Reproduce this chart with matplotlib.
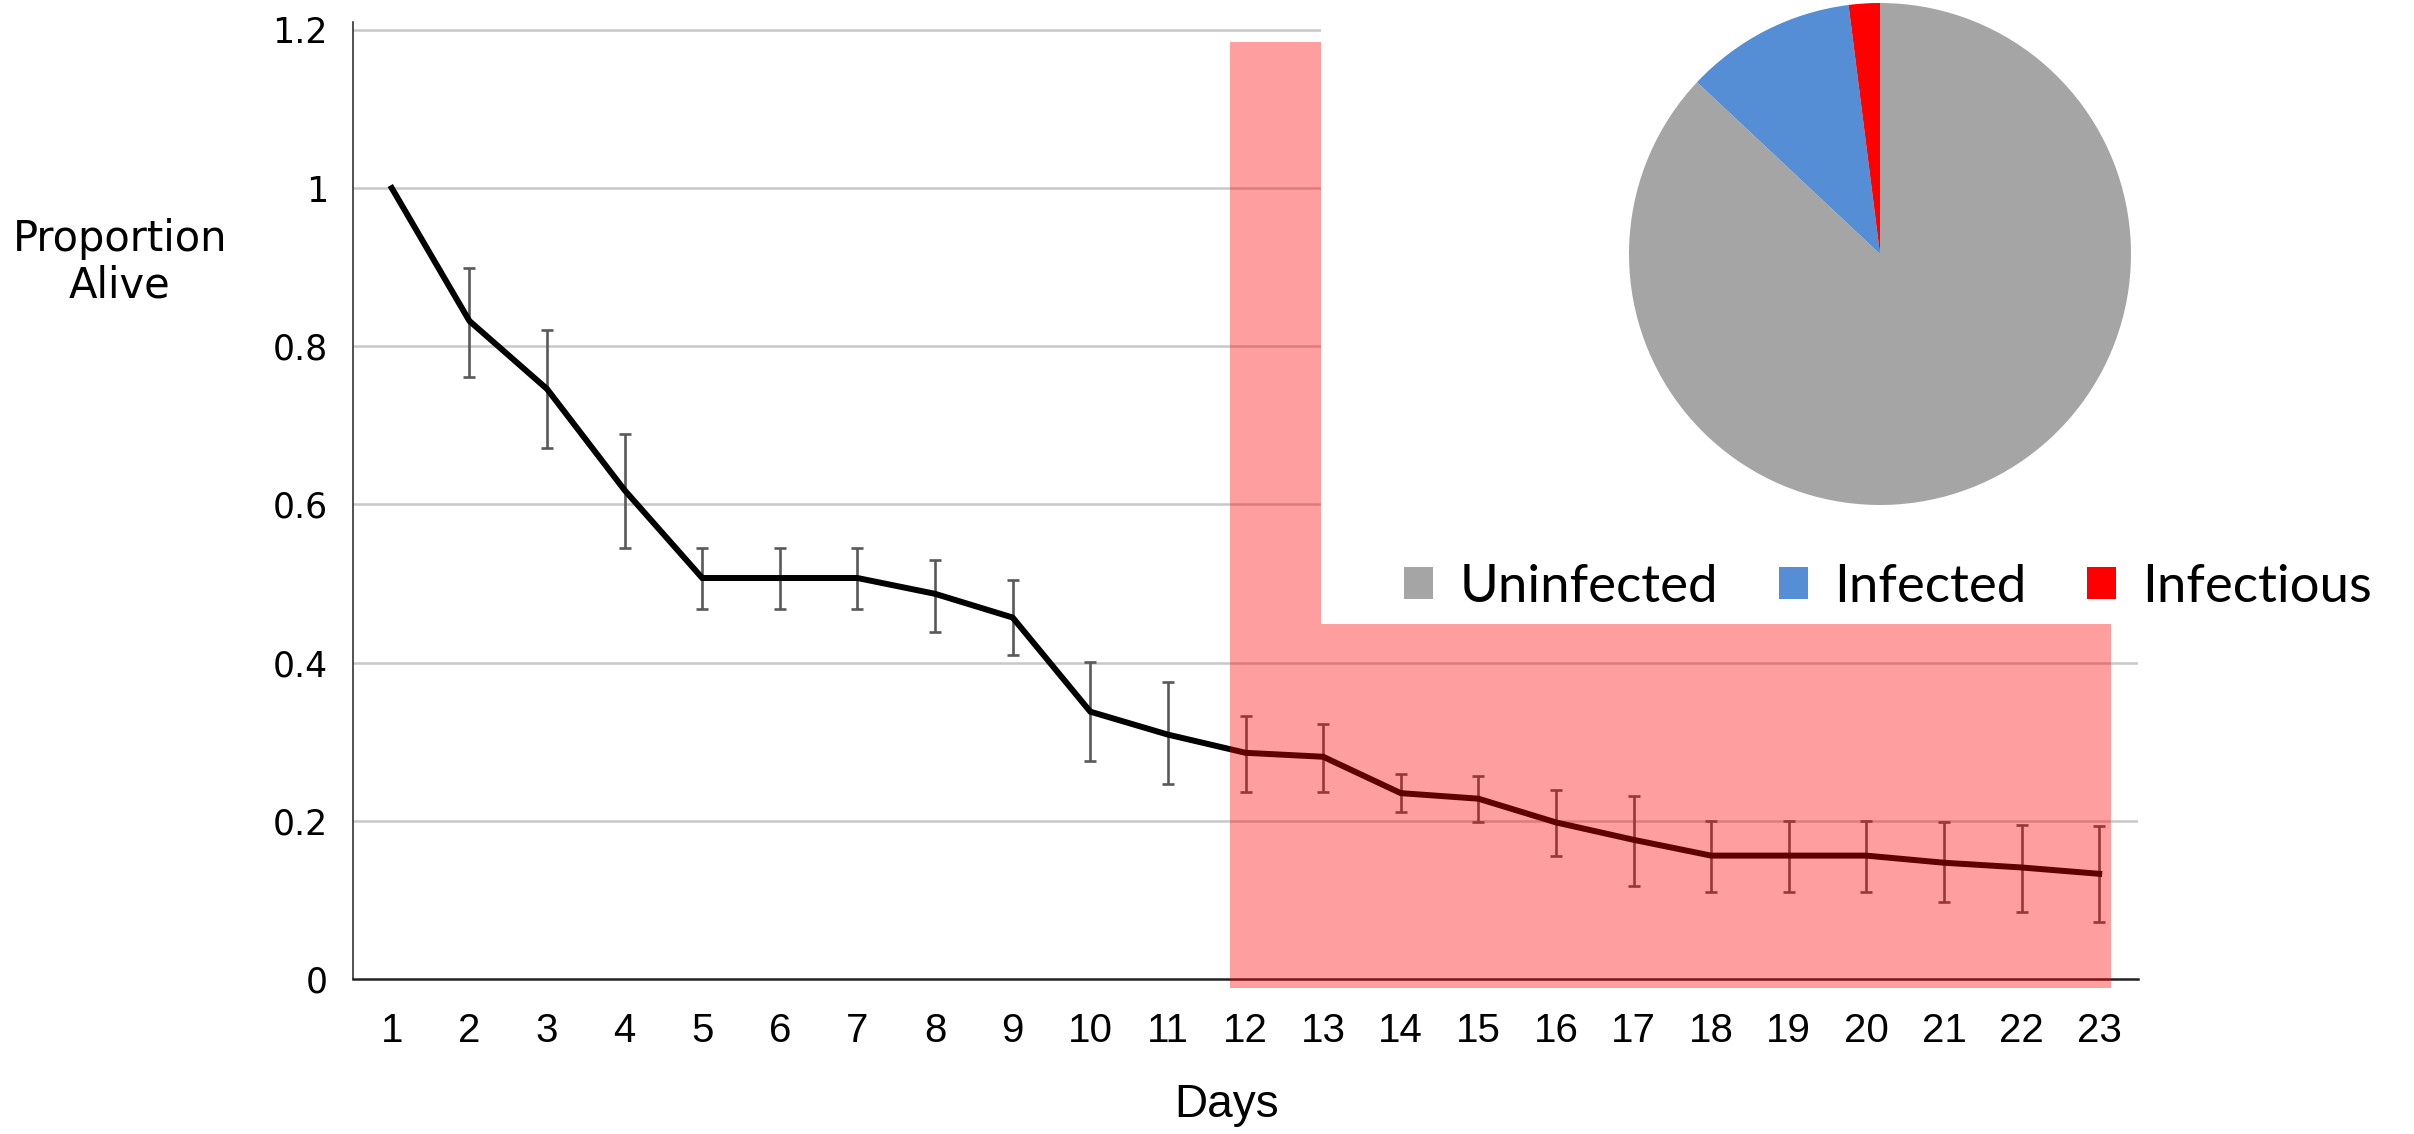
import matplotlib
matplotlib.use('Agg')
import matplotlib.pyplot as plt
from matplotlib.patches import Patch, Rectangle

# survival data
days = list(range(1, 24))
alive = [1.0, 0.832, 0.746, 0.618, 0.507, 0.507, 0.507, 0.487, 0.457, 0.338, 0.309,
         0.286, 0.281, 0.235, 0.228, 0.198, 0.176, 0.156, 0.156, 0.156, 0.147, 0.141, 0.133]
err_top = [1.0, 0.899, 0.821, 0.689, 0.545, 0.545, 0.545, 0.530, 0.504, 0.401, 0.375,
           0.333, 0.323, 0.259, 0.257, 0.239, 0.232, 0.200, 0.200, 0.200, 0.199, 0.195, 0.193]
err_bot = [1.0, 0.761, 0.671, 0.545, 0.468, 0.468, 0.468, 0.439, 0.410, 0.276, 0.246,
           0.237, 0.236, 0.211, 0.198, 0.156, 0.117, 0.110, 0.110, 0.110, 0.097, 0.085, 0.072]
has_err = [False] + [True] * 22

shade_start, shade_end, shade_top = 11.8, 23.15, 1.185

pie_labels = ['Uninfected', 'Infected', 'Infectious']
pie_values = [87, 11, 2]
pie_colors = ['#A5A5A5', '#558ED5', '#FF0000']

W, H = 2414, 1134
fig = plt.figure(figsize=(W / 100, H / 100), dpi=100)
ax = fig.add_axes([353 / W, 1 - 979 / H, 1785 / W, (979 - 22) / H])

ax.set_xlim(0.5, 23.5)
ax.set_ylim(0, 1.21)
ax.set_yticks([0, 0.2, 0.4, 0.6, 0.8, 1.0, 1.2])
ax.set_yticklabels(['0', '0.2', '0.4', '0.6', '0.8', '1', '1.2'])
ax.set_xticks(days)
ax.set_xticklabels([str(d) for d in days])
for y in [0.2, 0.4, 0.6, 0.8, 1.0, 1.2]:
    ax.axhline(y, color='#C8C8C8', lw=1.8, zorder=0)

for s in ['top', 'right']:
    ax.spines[s].set_visible(False)
ax.spines['left'].set_color('#333333')
ax.spines['left'].set_linewidth(1.2)
ax.spines['bottom'].set_color('#222222')
ax.spines['bottom'].set_linewidth(1.8)

ax.tick_params(axis='both', length=0)
ax.tick_params(axis='y', pad=18, labelsize=25)
ax.tick_params(axis='x', pad=24)
for lab in ax.get_yticklabels():
    lab.set_family('DejaVu Sans')
for lab in ax.get_xticklabels():
    lab.set_family(['Liberation Sans Narrow', 'Liberation Sans'])
    lab.set_fontsize(29)

ax.plot(days, alive, color='black', lw=4.3, zorder=3, solid_joinstyle='miter')
xe = [d for d, h in zip(days, has_err) if h]
ye = [a for a, h in zip(alive, has_err) if h]
lo = [a - b for a, b, h in zip(alive, err_bot, has_err) if h]
hi = [t - a for a, t, h in zip(alive, err_top, has_err) if h]
ax.errorbar(xe, ye, yerr=[lo, hi], fmt='none', ecolor='#595959',
            elinewidth=1.9, capsize=4.5, capthick=1.9, zorder=2)

ax.add_patch(Rectangle((shade_start, -0.012), shade_end - shade_start, shade_top + 0.012,
                       facecolor='#FF0000', alpha=0.38, edgecolor='none', zorder=5,
                       clip_on=False))

# white panel holding the pie chart and its legend
panel = fig.add_axes([1321 / W, 1 - 624 / H, 1 - 1321 / W, 624 / H])
panel.set_facecolor('white')
panel.set_xticks([])
panel.set_yticks([])
for s in panel.spines.values():
    s.set_visible(False)

pax = fig.add_axes([(1880 - 251) / W, 1 - (254 + 251) / H, 502 / W, 502 / H])
pax.pie(pie_values, colors=pie_colors, startangle=90, counterclock=False,
        wedgeprops=dict(linewidth=0))
pax.set_xlim(-1, 1)
pax.set_ylim(-1, 1)
pax.set_aspect('equal')

handles = [Patch(facecolor=c, edgecolor='none') for c in pie_colors]
fig.legend(handles, pie_labels, loc='center', bbox_to_anchor=(1888 / W, 1 - 587 / H),
           ncol=3, frameon=False, prop={'family': 'Lato', 'size': 38},
           handlelength=0.55, handleheight=0.55, handletextpad=0.5, columnspacing=1.15)

fig.text(120 / W, 1 - 262 / H, 'Proportion\nAlive', ha='center', va='center',
         fontsize=30, family='DejaVu Sans', linespacing=1.15)
fig.text(1227 / W, 1 - 1105 / H, 'Days', ha='center', va='center', fontsize=33,
         family=['Liberation Sans Narrow', 'Liberation Sans'])

fig.savefig('out.png', dpi=100)
